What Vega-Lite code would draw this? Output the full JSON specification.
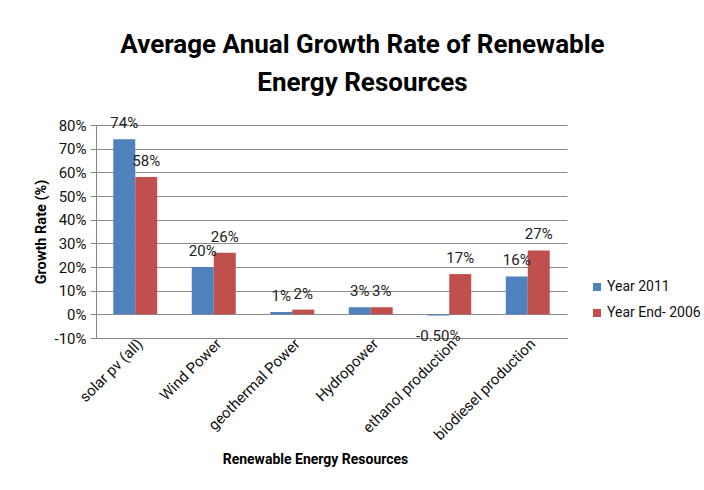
{
  "$schema": "https://vega.github.io/schema/vega-lite/v6.json",
  "autosize": "none",
  "width": 471,
  "height": 213,
  "padding": {"left": 96, "top": 125, "right": 137, "bottom": 152},
  "background": "white",
  "title": {
    "text": ["Average Anual Growth Rate of Renewable", "Energy Resources"],
    "font": "Roboto, sans-serif",
    "fontSize": 26,
    "fontWeight": "bold",
    "color": "#000000",
    "anchor": "middle",
    "dx": 31,
    "offset": 20,
    "lineHeight": 38
  },
  "config": {
    "locale": {"number": {"decimal": ".", "thousands": ",", "grouping": [3], "currency": ["$", ""], "minus": "-"}},
    "view": {"stroke": null},
    "font": "Roboto, sans-serif",
    "axis": {"labelFont": "Roboto, sans-serif", "titleFont": "Roboto, sans-serif"}
  },
  "data": {
    "values": [
      {"resource": "solar pv (all)", "series": "Year 2011", "value": 0.74},
      {"resource": "solar pv (all)", "series": "Year End- 2006", "value": 0.58},
      {"resource": "Wind Power", "series": "Year 2011", "value": 0.20},
      {"resource": "Wind Power", "series": "Year End- 2006", "value": 0.26},
      {"resource": "geothermal Power", "series": "Year 2011", "value": 0.01},
      {"resource": "geothermal Power", "series": "Year End- 2006", "value": 0.02},
      {"resource": "Hydropower", "series": "Year 2011", "value": 0.03},
      {"resource": "Hydropower", "series": "Year End- 2006", "value": 0.03},
      {"resource": "ethanol production", "series": "Year 2011", "value": -0.005},
      {"resource": "ethanol production", "series": "Year End- 2006", "value": 0.17},
      {"resource": "biodiesel production", "series": "Year 2011", "value": 0.16},
      {"resource": "biodiesel production", "series": "Year End- 2006", "value": 0.27}
    ]
  },
  "encoding": {
    "x": {
      "field": "resource",
      "type": "nominal",
      "sort": null,
      "scale": {"paddingInner": 0.44, "paddingOuter": 0.22},
      "axis": {
        "title": "Renewable Energy Resources",
        "titleFontSize": 14,
        "titleFontWeight": "bold",
        "titleColor": "#000000",
        "titlePadding": 10,
        "titleX": 219,
        "titleAlign": "center",
        "labelAngle": -45,
        "labelFontSize": 15,
        "labelColor": "#111111",
        "labelPadding": -2,
        "ticks": false,
        "domainColor": "#868686",
        "grid": false
      }
    },
    "xOffset": {"field": "series", "type": "nominal", "sort": null, "scale": {"paddingInner": 0, "paddingOuter": 0}},
    "y": {
      "field": "value",
      "type": "quantitative",
      "scale": {"domain": [-0.1, 0.8], "nice": false, "zero": false},
      "axis": {
        "title": "Growth Rate (%)",
        "titleFontSize": 14.5,
        "titleFontWeight": "bold",
        "titleColor": "#000000",
        "titlePadding": 6,
        "values": [-0.1, 0, 0.1, 0.2, 0.3, 0.4, 0.5, 0.6, 0.7, 0.8],
        "format": ".0%",
        "labelFontSize": 15,
        "labelColor": "#111111",
        "labelPadding": 4,
        "tickSize": 6,
        "tickColor": "#868686",
        "domainColor": "#868686",
        "gridColor": "#8c8c8c",
        "gridWidth": 1
      }
    }
  },
  "layer": [
    {
      "mark": {"type": "bar"},
      "encoding": {
        "color": {
          "field": "series",
          "type": "nominal",
          "sort": null,
          "scale": {"range": ["#4F81BD", "#C0504D"]},
          "legend": {
            "title": null,
            "orient": "none",
            "legendX": 494,
            "legendY": 155,
            "symbolType": "square",
            "symbolSize": 64,
            "symbolStrokeWidth": 0,
            "labelFontSize": 14,
            "labelColor": "#111111",
            "rowPadding": 12,
            "labelOffset": 3
          }
        }
      }
    },
    {
      "transform": [{"filter": "datum.value >= 0"}],
      "mark": {"type": "text", "baseline": "bottom", "dy": -8, "fontSize": 15, "color": "#222222"},
      "encoding": {"text": {"field": "value", "type": "quantitative", "format": ".0%"}}
    },
    {
      "transform": [{"filter": "datum.value < 0"}],
      "mark": {"type": "text", "baseline": "top", "dy": 13, "fontSize": 15, "color": "#222222"},
      "encoding": {"text": {"field": "value", "type": "quantitative", "format": ".2%"}}
    }
  ]
}
